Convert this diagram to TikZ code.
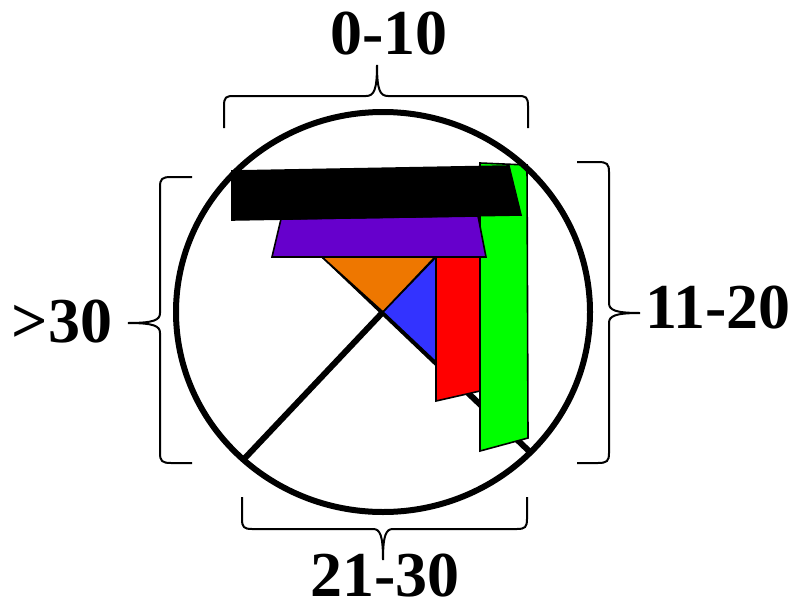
\documentclass[tikz,border=0pt]{standalone}
\usepackage{fontspec}
\setmainfont{Liberation Serif}
\begin{document}
\begin{tikzpicture}[x=1pt,y=-1pt,
  thickline/.style={line width=6pt},
  shapebox/.style={draw=black,line width=1.6pt,line join=miter},
  bracepath/.style={line width=2pt},
  lbl/.style={font=\fontsize{64}{64}\selectfont\bfseries,inner sep=0pt,anchor=base}]
\definecolor{cOrange}{HTML}{EE7700}
\definecolor{cPurple}{HTML}{6600CC}
\definecolor{cBlue}{HTML}{3333FF}
\definecolor{cRed}{HTML}{FF0000}
\definecolor{cGreen}{HTML}{00FF00}
\useasboundingbox (0,0) rectangle (794,602);
% X lines
\coordinate (c) at (383,312);
\coordinate (ll) at (245,458);
\coordinate (ur) at (521,166);
\coordinate (ul) at (236,172);
\coordinate (lr) at (530,452);
\draw[thickline] (ll) -- (ur);
\draw[thickline] (ul) -- (lr);
% shapes
\fill[cOrange,shapebox] (322,257) -- (435,257) -- (c) -- cycle;
\fill[cBlue,shapebox] (c) -- (436,257) -- (436,362) -- cycle;
\fill[cRed,shapebox] (436,217) -- (480,217) -- (480,391) -- (436,401) -- cycle;
\fill[cGreen,shapebox] (480,163) -- (527,165) -- (528,438) -- (480,451) -- cycle;
\fill[cPurple,shapebox] (281,219) -- (478,216) -- (486,257) -- (272,257) -- cycle;
\fill[black,shapebox] (232,171) -- (509,166) -- (521,215) -- (232,220) -- cycle;
% circle
\draw[thickline] (c) ellipse [x radius=207, y radius=200];
% braces
\draw[bracepath] (224,128) -- (224,106) .. controls (224,97) and (226,96) .. (234,96)
  -- (366,96) .. controls (374,96) and (377,90) .. (377,65)
  .. controls (377,90) and (380,96) .. (388,96)
  -- (518,96) .. controls (526,96) and (528,97) .. (528,106) -- (528,128);
\draw[bracepath] (577,162) -- (598,162) .. controls (607,162) and (609,164) .. (609,172)
  -- (609,303) .. controls (609,310) and (615,313) .. (640,313)
  .. controls (615,313) and (609,316) .. (609,323)
  -- (609,453) .. controls (609,461) and (607,463) .. (598,463) -- (577,463);
\draw[bracepath] (192,177) -- (171,177) .. controls (162,177) and (160,179) .. (160,187)
  -- (160,313) .. controls (160,320) and (154,323) .. (128,323)
  .. controls (154,323) and (160,326) .. (160,333)
  -- (160,453) .. controls (160,461) and (162,463) .. (171,463) -- (192,463);
\draw[bracepath] (242,497) -- (242,519) .. controls (242,527) and (244,529) .. (252,529)
  -- (373,529) .. controls (380,529) and (383,535) .. (383,560)
  .. controls (383,535) and (386,529) .. (393,529)
  -- (517,529) .. controls (525,529) and (527,527) .. (527,519) -- (527,497);
% labels
\node[lbl] (t1) at (389,55) {0-10};
\node[lbl] (t2) at (718,328) {11-20};
\node[lbl] (t3) at (62,342) {>30};
\node[lbl] (t4) at (385,596) {21-30};
\end{tikzpicture}
\end{document}
